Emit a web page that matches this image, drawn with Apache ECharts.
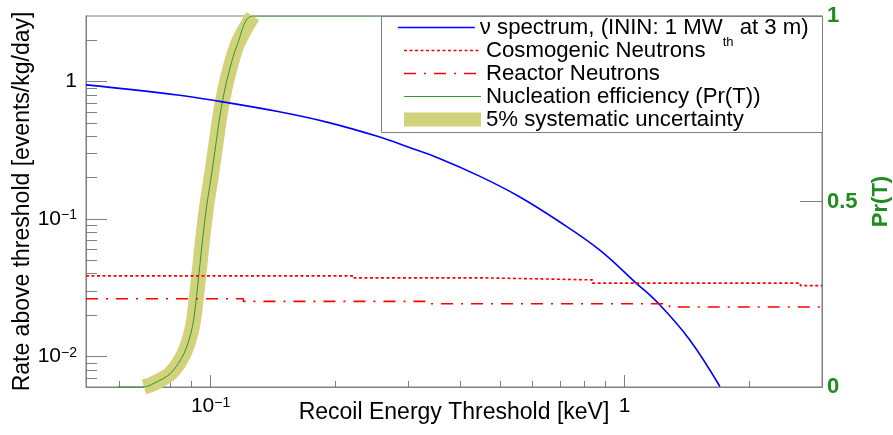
<!DOCTYPE html>
<html><head><meta charset="utf-8">
<script src="https://cdn.jsdelivr.net/npm/echarts@6/dist/echarts.min.js"></script>
<style>html,body{margin:0;padding:0;background:#fff}#c{width:893px;height:435px}</style>
</head><body><div id="c"></div>
<script>
// ---- data ----
const nuEnergy = [0.05, 0.0832, 0.106, 0.1455, 0.192, 0.254, 0.301, 0.356, 0.445, 0.556, 0.695, 0.870, 1.057, 1.216, 1.438, 1.70];
const nuRate   = [0.946, 0.799, 0.715, 0.605, 0.505, 0.398, 0.333, 0.277, 0.206, 0.146, 0.096, 0.0597, 0.0351, 0.0238, 0.0132, 0.00605];
const cosmoEnergy = [0.05, 0.221, 0.463, 0.836, 2.66, 3];
const cosmoRate   = [0.0386, 0.0373, 0.0361, 0.0342, 0.0328, 0.0328];
const reactorEnergy = [0.05, 0.12, 0.336, 1.285, 3];
const reactorRate   = [0.0263, 0.0252, 0.0242, 0.0229, 0.0229];
const effEnergy = [0.0595, 0.069, 0.073, 0.0801, 0.0863, 0.0904, 0.093, 0.0956, 0.0979, 0.1006, 0.103, 0.1059, 0.110, 0.1163, 0.1265, 3];
const effProb   = [0, 0, 0.010, 0.037, 0.091, 0.163, 0.270, 0.396, 0.49, 0.575, 0.655, 0.747, 0.836, 0.926, 1, 1];
const bandFirst = 1, bandLast = 14; // rising part of efficiency carries the band
const xMajorTicks = [0.1, 1];
const xMinorTicks = [0.06, 0.07, 0.08, 0.09, 0.2, 0.3, 0.4, 0.5, 0.6, 0.7, 0.8, 0.9, 2];
const yMajorTicks = [0.01, 0.1, 1];
const yMinorTicks = [0.007, 0.008, 0.009, 0.02, 0.03, 0.04, 0.05, 0.06, 0.07, 0.08, 0.09,
                     0.2, 0.3, 0.4, 0.5, 0.6, 0.7, 0.8, 0.9, 2];
const legendNames = ['nu', 'Cosmogenic Neutrons', 'Reactor Neutrons', 'Nucleation efficiency (Pr(T))', '5% systematic uncertainty'];
const nuLegendText = 'ν spectrum, (ININ: 1 MW{sub|th} at 3 m)';
const xTitle = 'Recoil Energy Threshold [keV]';
const yTitle = 'Rate above threshold [events/kg/day]';
const y2Title = 'Pr(T)';

// ---- styling ----
const FONT = 'Liberation Sans, Arial, Helvetica, sans-serif';
const GREY = '#7f7f7f';
const GREEN = '#1e8c1e';
const BAND = '#d2d27c';
const zip = (a, b) => a.map((v, i) => [v, b[i]]);
function powFmt(v) {
  const e = Math.round(Math.log10(v));
  if (e === 0) return '1';
  return '10{sup|' + (e < 0 ? '\u2212' + (-e) : e) + '}';
}
const labelStyle = {color: '#000', fontSize: 21, fontFamily: FONT,
  rich: {sup: {fontSize: 14, fontFamily: FONT, color: '#000', verticalAlign: 'top'}}};

const xBase = {type: 'log', logBase: 10, min: 0.05, max: 3, position: 'bottom', splitLine: {show: false}};
const yBase = {type: 'log', logBase: 10, min: 0.006, max: 3, position: 'left', splitLine: {show: false}};

const legendLineWidths = [1.6, 1.6, 1.6, 1, 14];
const ROW = 23;
const legendCommon = {
  orient: 'vertical', left: 381, z: 10,
  itemWidth: 77, itemHeight: 14, itemGap: 0, itemTextGap: 17,
  padding: [0, 0, 0, 16], selectedMode: false,
  itemStyle: {opacity: 0},
  formatter: n => n === 'nu' ? nuLegendText : n,
  textStyle: {fontSize: 22.2, lineHeight: ROW, color: '#000', fontFamily: FONT,
    rich: {sub: {fontSize: 13, fontFamily: FONT, color: '#000', padding: [15, 0, -15, 0]}}}
};
const legendItems = legendNames.map((n, i) => ({name: n, lineStyle: {width: legendLineWidths[i]}}));

const chart = echarts.init(document.getElementById('c'), null, {renderer: 'canvas'});
chart.setOption({
  animation: false,
  backgroundColor: '#fff',
  grid: {left: 86, right: 71, top: 16, bottom: 48, show: true, borderColor: GREY, borderWidth: 1,
         containLabel: false, outerBoundsMode: 'none'},
  graphic: [{
    type: 'rect', left: 381, top: 16, z: 9, silent: true,
    shape: {width: 441, height: 116},
    style: {fill: '#fff', stroke: GREY, lineWidth: 1}
  }],
  legend: [
    Object.assign({}, legendCommon, {top: 16, data: legendItems.slice(0, 1)}),
    Object.assign({}, legendCommon, {top: 16 + ROW, data: legendItems.slice(1)})
  ],
  xAxis: [
    Object.assign({}, xBase, {
      axisLine: {show: true, lineStyle: {color: GREY, width: 1}},
      axisTick: {show: true, inside: true, length: 6, customValues: xMinorTicks, lineStyle: {color: GREY}},
      axisLabel: Object.assign({customValues: xMajorTicks, formatter: powFmt, margin: 9}, labelStyle),
      name: xTitle, nameLocation: 'middle', nameGap: 14, nameMoveOverlap: false,
      nameTextStyle: {color: '#000', fontSize: 23, fontFamily: FONT}
    }),
    Object.assign({}, xBase, {
      axisLine: {show: false},
      axisTick: {show: true, inside: true, length: 12, customValues: xMajorTicks, lineStyle: {color: GREY}},
      axisLabel: {show: false}
    })
  ],
  yAxis: [
    Object.assign({}, yBase, {
      axisLine: {show: true, lineStyle: {color: GREY, width: 1}},
      axisTick: {show: true, inside: true, length: 11, customValues: yMinorTicks, lineStyle: {color: GREY}},
      axisLabel: Object.assign({customValues: yMajorTicks, formatter: powFmt, margin: 9}, labelStyle),
      name: yTitle, nameLocation: 'middle', nameGap: 52, nameMoveOverlap: false,
      nameTextStyle: {color: '#000', fontSize: 23, fontFamily: FONT}
    }),
    Object.assign({}, yBase, {
      axisLine: {show: false},
      axisTick: {show: true, inside: true, length: 21, customValues: yMajorTicks, lineStyle: {color: GREY}},
      axisLabel: {show: false}
    }),
    {
      type: 'value', min: 0, max: 1, interval: 0.5, position: 'right', splitLine: {show: false},
      axisLine: {show: true, lineStyle: {color: GREY, width: 1}},
      axisTick: {show: true, inside: true, length: 22, lineStyle: {color: GREY}},
      axisLabel: {color: GREEN, fontWeight: 'bold', fontSize: 22, fontFamily: FONT, margin: 5},
      name: y2Title, nameLocation: 'middle', nameGap: 48, nameMoveOverlap: false,
      nameTextStyle: {color: GREEN, fontWeight: 'bold', fontSize: 22, fontFamily: FONT}
    }
  ],
  series: [
    {name: legendNames[0], type: 'line', xAxisIndex: 0, yAxisIndex: 0, data: zip(nuEnergy, nuRate),
     symbol: 'none', smooth: 0.4, lineStyle: {color: '#0000ff', width: 1.6}, itemStyle: {color: '#0000ff'}, z: 3},
    {name: legendNames[1], type: 'line', xAxisIndex: 0, yAxisIndex: 0, data: zip(cosmoEnergy, cosmoRate), step: 'end',
     symbol: 'none', lineStyle: {color: '#ff0000', width: 1.6, type: [3, 2.5]}, itemStyle: {color: '#ff0000'}, z: 3},
    {name: legendNames[2], type: 'line', xAxisIndex: 0, yAxisIndex: 0, data: zip(reactorEnergy, reactorRate), step: 'end',
     symbol: 'none', lineStyle: {color: '#ff0000', width: 1.6, type: [12, 8, 2, 8]}, itemStyle: {color: '#ff0000'}, z: 3},
    {name: legendNames[4], type: 'line', xAxisIndex: 0, yAxisIndex: 2,
     data: zip(effEnergy, effProb).slice(bandFirst, bandLast + 1),
     symbol: 'none', smooth: 0.3, lineStyle: {color: BAND, width: 15, cap: 'butt', join: 'round'}, itemStyle: {color: BAND}, z: 1},
    {name: legendNames[3], type: 'line', xAxisIndex: 0, yAxisIndex: 2, data: zip(effEnergy, effProb),
     symbol: 'none', smooth: 0.3, lineStyle: {color: '#2e9a2e', width: 1}, itemStyle: {color: '#2e9a2e'}, z: 2}
  ]
});
</script></body></html>
